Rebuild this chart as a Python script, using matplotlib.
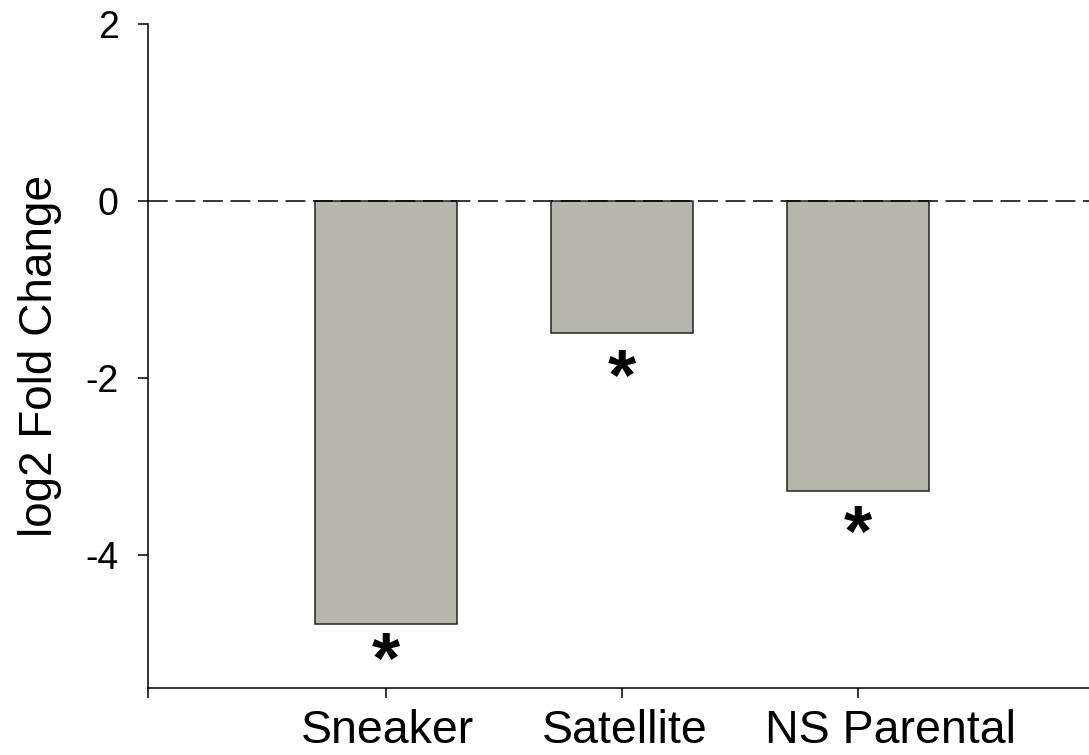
import matplotlib
matplotlib.use("Agg")
import matplotlib.pyplot as plt

categories = ["Sneaker", "Satellite", "NS Parental"]
values = [-4.78, -1.49, -3.27]
star_y = [-5.07, -1.87, -3.63]
yticks = [-4, -2, 0, 2]

plt.rcParams['font.family'] = ['Liberation Sans', 'DejaVu Sans']

fig = plt.figure(figsize=(10.89, 7.55), dpi=100)
ax = fig.add_axes([148/1089, 67/755, 1 - 148/1089, (688-24)/755])

pos = list(range(1, len(categories) + 1))
ax.bar(pos, values, width=0.6, color='#B7B7AB', edgecolor='#222222', linewidth=1.1, zorder=2)
ax.axhline(0, color='black', linewidth=1.1, linestyle=(0, (13, 5)), zorder=3)

star_fs = 52
for p, sy in zip(pos, star_y):
    ax.annotate('*', xy=(p, sy), xytext=(0, -0.45 * star_fs), textcoords='offset points',
                ha='center', va='baseline', fontsize=star_fs, fontweight='bold', zorder=4)

xmin = -0.01
ax.set_xlim(xmin, 3.98)
ax.set_ylim(-5.5, 2)
ax.set_yticks(yticks)
ax.set_yticklabels([str(t) for t in yticks])
ax.set_xticks([xmin] + pos)
ax.set_xticklabels([''] * (len(pos) + 1))

# category labels drawn below ticks (small horizontal shifts as in the reference)
label_dx_px = [1, 3, 33]
tick_len, tick_pad = 7.2, 8
for p, lab, dx in zip(pos, categories, label_dx_px):
    ax.annotate(lab, xy=(p, 0), xycoords=('data', 'axes fraction'),
                xytext=(dx * 72 / fig.dpi, -(tick_len + tick_pad)), textcoords='offset points',
                ha='center', va='top', fontsize=33.5, annotation_clip=False)

for side in ['top', 'right']:
    ax.spines[side].set_visible(False)
for side in ['left', 'bottom']:
    ax.spines[side].set_linewidth(1.1)

ax.tick_params(axis='y', direction='out', length=7.2, width=1.1, labelsize=27, pad=14)
ax.tick_params(axis='x', direction='out', length=tick_len, width=1.1, pad=tick_pad)
ax.set_ylabel('log2 Fold Change', fontsize=33, labelpad=17)

fig.savefig('out.png', dpi=100)
